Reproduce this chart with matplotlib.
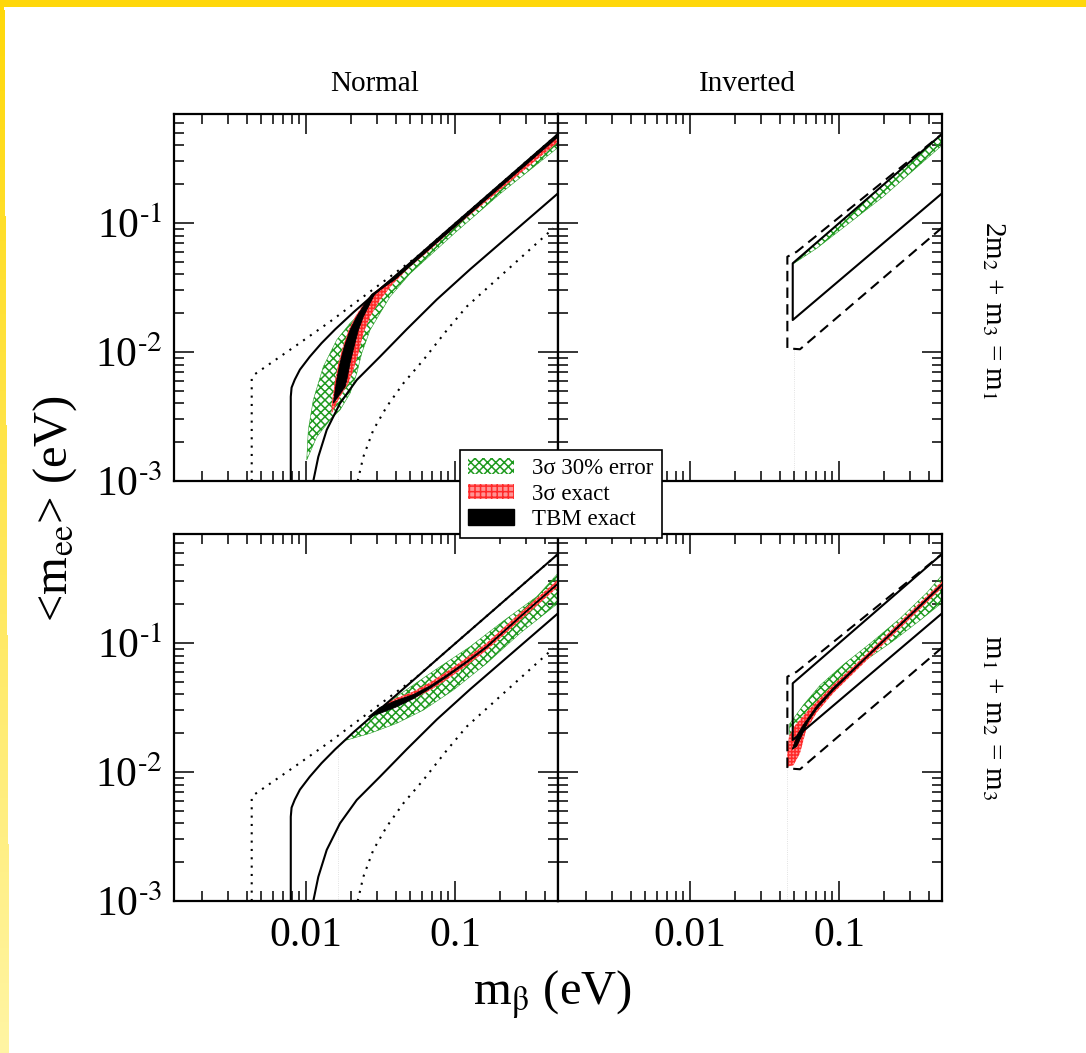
import numpy as np
import matplotlib
matplotlib.use('Agg')
import matplotlib.pyplot as plt
from matplotlib.patches import Patch, Rectangle
from matplotlib.ticker import LogLocator, NullFormatter

plt.rcParams['font.family'] = ['Liberation Serif', 'DejaVu Serif']
plt.rcParams['mathtext.fontset'] = 'stix'
plt.rcParams['hatch.linewidth'] = 1.1

# ---------------- data (eV) ----------------
# normal ordering envelopes (same in both rows)
nh_hi_x = [0.0079, 0.0079, 0.0080, 0.0084, 0.0091, 0.0106, 0.0127, 0.0157, 0.0208, 0.0283, 0.0396, 0.055, 0.083, 0.491]
nh_hi_y = [0.001, 0.0045, 0.0053, 0.0061, 0.0073, 0.0092, 0.0117, 0.0150, 0.0203, 0.0277, 0.0388, 0.054, 0.082, 0.49]
nh_hi_dot_x = [0.00432, 0.00432, 0.00455, 0.00866, 0.0145, 0.0242, 0.0406, 0.0553, 0.083, 0.491]
nh_hi_dot_y = [0.001, 0.00625, 0.00675, 0.0113, 0.0172, 0.0268, 0.0419, 0.0545, 0.082, 0.49]
nh_lo_x = [0.01119, 0.01209, 0.01377, 0.0169, 0.0219, 0.03136, 0.0474, 0.0754, 0.1261, 0.491]
nh_lo_y = [0.001, 0.00154, 0.00249, 0.0040, 0.00607, 0.0092, 0.0150, 0.0255, 0.0437, 0.1698]
nh_lo_dot_x = [0.02223, 0.02424, 0.0283, 0.0348, 0.045, 0.0613, 0.0879, 0.1198, 0.457]
nh_lo_dot_y = [0.001, 0.00154, 0.00249, 0.00377, 0.00572, 0.00867, 0.0147, 0.0225, 0.091]

# inverted ordering envelopes
ih_x = [0.491, 0.0489, 0.0489, 0.491]
ih_y = [0.1698, 0.0177, 0.0487, 0.49]
ih_dash_x = [0.491, 0.0547, 0.045, 0.045, 0.052, 0.491]
ih_dash_y = [0.092, 0.0105, 0.01068, 0.0548, 0.0599, 0.49]

# faint vertical guides
faint_nh_x = 0.0165
faint_nh_top = [0.0033, 0.0157]
faint_ih_x = [0.0495, 0.045]
faint_ih_top = [0.0107, 0.0107]

# ---- Normal, 2m2+m3=m1 ----
gA_up_x = [0.01011, 0.01036, 0.01119, 0.01306, 0.01607, 0.01974, 0.02555, 0.03303, 0.0499, 0.083, 0.491]
gA_up_y = [0.001455, 0.00249, 0.00425, 0.00769, 0.0124, 0.0167, 0.02245, 0.02851, 0.047, 0.080, 0.48]
gA_lo_x = [0.491, 0.2, 0.1, 0.0499, 0.03663, 0.03136, 0.02689, 0.02364, 0.0219, 0.01974, 0.0169, 0.01449, 0.0118]
gA_lo_y = [0.385, 0.168, 0.084, 0.0405, 0.02684, 0.01995, 0.0148, 0.00977, 0.00684, 0.00478, 0.00355, 0.00297, 0.0022]
rA_up_x = [0.01488, 0.0149, 0.0157, 0.0165, 0.0177, 0.0193, 0.0214, 0.0245, 0.0276, 0.0396, 0.055, 0.083, 0.491]
rA_up_y = [0.00335, 0.0040, 0.0061, 0.0082, 0.011, 0.0148, 0.0188, 0.0238, 0.0280, 0.0388, 0.054, 0.082, 0.49]
rA_lo_x = [0.491, 0.0950, 0.0679, 0.0499, 0.03854, 0.03136, 0.02689, 0.02424, 0.02244, 0.02077, 0.01922, 0.0169]
rA_lo_y = [0.4246, 0.0882, 0.0618, 0.0458, 0.03408, 0.0253, 0.01878, 0.01396, 0.00977, 0.00725, 0.00572, 0.0045]
bA_up_x = [0.01525, 0.01607, 0.0169, 0.01807, 0.01974, 0.0219, 0.0249, 0.0276, 0.0306, 0.0396, 0.055, 0.083, 0.491]
bA_up_y = [0.0040, 0.00607, 0.00818, 0.011, 0.0148, 0.01878, 0.02385, 0.0280, 0.0305, 0.0388, 0.054, 0.082, 0.49]
bA_lo_x = [0.491, 0.083, 0.055, 0.0396, 0.02904, 0.02689, 0.02424, 0.02244, 0.021, 0.01974, 0.01876, 0.01827]
bA_lo_y = [0.465, 0.0775, 0.051, 0.0365, 0.0285, 0.02385, 0.01878, 0.0148, 0.011, 0.00818, 0.00607, 0.00538]

# ---- Inverted, 2m2+m3=m1 ----
gB_up_x = [0.0489, 0.491]
gB_up_y = [0.0487, 0.49]
gB_lo_x = [0.491, 0.198, 0.0709, 0.0489]
gB_lo_y = [0.40, 0.16, 0.0637, 0.0480]

# ---- Normal, m1+m2=m3 ----
gC_up_x = [0.01827, 0.0242, 0.030, 0.0406, 0.0754, 0.1261, 0.211, 0.3534, 0.491]
gC_up_y = [0.0177, 0.0236, 0.0292, 0.0385, 0.0630, 0.0936, 0.148, 0.2285, 0.347]
gC_lo_x = [0.491, 0.273, 0.1632, 0.0974, 0.0613, 0.0406, 0.02689, 0.01876]
gC_lo_y = [0.2032, 0.119, 0.0696, 0.0432, 0.0302, 0.02385, 0.01995, 0.0177]
rC_x = [0.033, 0.040, 0.0525, 0.068, 0.088, 0.12, 0.163, 0.273, 0.491]
rC_up = [0.0330, 0.0372, 0.0420, 0.0495, 0.0600, 0.0770, 0.100, 0.171, 0.310]
rC_lo = [0.0318, 0.0340, 0.0370, 0.0430, 0.0520, 0.0670, 0.088, 0.150, 0.272]
bC_up_x = [0.0262, 0.0314, 0.040, 0.0525, 0.068, 0.088, 0.12, 0.163, 0.273, 0.491]
bC_up_y = [0.0268, 0.0317, 0.0357, 0.0398, 0.0465, 0.0565, 0.0725, 0.0945, 0.161, 0.292]
bC_lo_x = [0.491, 0.273, 0.163, 0.12, 0.088, 0.068, 0.0525, 0.040, 0.0314]
bC_lo_y = [0.286, 0.158, 0.092, 0.0705, 0.0545, 0.0445, 0.0370, 0.0318, 0.0285]

# ---- Inverted, m1+m2=m3 ----
gD_up_x = [0.0465, 0.0576, 0.0746, 0.1069, 0.1614, 0.2567, 0.3879, 0.491]
gD_up_y = [0.0235, 0.0330, 0.0470, 0.0680, 0.0990, 0.155, 0.245, 0.335]
gD_lo_x = [0.491, 0.3497, 0.2313, 0.1534, 0.1016, 0.0709, 0.0576, 0.052, 0.0469]
gD_lo_y = [0.205, 0.150, 0.104, 0.0745, 0.0490, 0.0320, 0.0225, 0.0167, 0.0165]
rD_up_x = [0.045, 0.0462, 0.0510, 0.0620, 0.0916, 0.1534, 0.2567, 0.491]
rD_up_y = [0.0140, 0.0190, 0.0232, 0.0300, 0.0475, 0.0820, 0.146, 0.300]
rD_lo_x = [0.491, 0.2567, 0.1534, 0.0916, 0.0709, 0.060, 0.0547, 0.0494, 0.045]
rD_lo_y = [0.268, 0.130, 0.0735, 0.0410, 0.0290, 0.0210, 0.0140, 0.0113, 0.0110]
bD_up_x = [0.0485, 0.0530, 0.0576, 0.0709, 0.0916, 0.1534, 0.2567, 0.491]
bD_up_y = [0.0150, 0.0198, 0.0232, 0.0326, 0.0450, 0.0790, 0.140, 0.287]
bD_lo_x = [0.491, 0.2567, 0.1534, 0.0916, 0.0709, 0.0620, 0.0560, 0.0520]
bD_lo_y = [0.279, 0.136, 0.0770, 0.0430, 0.0308, 0.0245, 0.0190, 0.0158]

HY = '\u2010'  # plain hyphen in the exponents, as in the original
xtick_vals = [0.01, 0.1]
xtick_labels = ['0.01', '0.1']
ytick_vals = [1e-3, 1e-2, 1e-1]
ytick_labels = ['10$^{' + HY + '3}$', '10$^{' + HY + '2}$', '10$^{' + HY + '1}$']
col_titles = ['Normal', 'Inverted']
row_labels = [r'2m$_2$ + m$_3$ = m$_1$', r'm$_1$ + m$_2$ = m$_3$']
leg_labels = ['3\u03c3 30% error', '3\u03c3 exact', 'TBM exact']

GREEN = '#1f9a1f'
RED_FACE = '#ff9494'
RED_HATCH = '#ff2a2a'
G_HATCH = 'xxxx'

# ---------------- figure ----------------
fig = plt.figure(figsize=(10.86, 10.53), dpi=100)
W, H = 1086.0, 1053.0

# yellow frame (top band + fading left band)
fig.patches.append(Rectangle((0, 1 - 7 / H), 1, 7 / H, transform=fig.transFigure,
                             facecolor='#ffd70a', edgecolor='none', zorder=0))
bax = fig.add_axes([0, 0, 10 / W, 1 - 7 / H])
nr, nc = 300, 10
t = np.linspace(0, 1, nr)[:, None]
cols = np.arange(nc)[None, :]
img = np.zeros((nr, nc, 4))
img[..., 0] = 1.0
img[..., 1] = 0.85 + 0.11 * t
img[..., 2] = 0.04 + 0.60 * t
img[..., 3] = (cols < 4 + 5 * t).astype(float)
bax.imshow(img, aspect='auto', interpolation='nearest', extent=[0, nc, nr, 0])
bax.set_xlim(0, nc)
bax.axis('off')

left, mid = 174 / W, 558 / W
aw = (558 - 174) / W
ah = (481 - 114) / H
bottoms = [1 - 481 / H, 1 - 901 / H]
axs = [[fig.add_axes([left, b, aw, ah]), fig.add_axes([mid, b, aw, ah])] for b in bottoms]


def band(ax, ux, uy, lx, ly, kind):
    xs = list(ux) + list(lx)
    ys = list(uy) + list(ly)
    if kind == 'g':
        ax.fill(xs, ys, facecolor='none', edgecolor=GREEN, hatch=G_HATCH, lw=0.4, zorder=2)
    elif kind == 'r':
        ax.fill(xs, ys, facecolor=RED_FACE, edgecolor=RED_HATCH, hatch='+++++', lw=0, zorder=3)
    else:
        ax.fill(xs, ys, facecolor='black', edgecolor='black', lw=0.6, zorder=4)


for r in range(2):
    for c in range(2):
        ax = axs[r][c]
        ax.set_xscale('log')
        ax.set_yscale('log')
        if c == 0:
            ax.plot(nh_hi_x, nh_hi_y, color='black', lw=1.5, zorder=5)
            ax.plot(nh_lo_x, nh_lo_y, color='black', lw=1.5, zorder=5)
            ax.plot(nh_hi_dot_x, nh_hi_dot_y, color='black', lw=1.5, ls=(0, (1, 3)), zorder=5)
            ax.plot(nh_lo_dot_x, nh_lo_dot_y, color='black', lw=1.5, ls=(0, (1, 3)), zorder=5)
            ax.plot([faint_nh_x, faint_nh_x], [1e-3, faint_nh_top[r]], color='#d8d8d8', lw=0.6, ls=':', zorder=1)
        else:
            ax.plot(ih_x, ih_y, color='black', lw=1.5, zorder=5)
            ax.plot(ih_dash_x, ih_dash_y, color='black', lw=1.5, ls=(0, (5, 3)), zorder=5)
            ax.plot([faint_ih_x[r], faint_ih_x[r]], [1e-3, faint_ih_top[r]], color='#d8d8d8', lw=0.6, ls=':', zorder=1)

        ax.set_xlim(0.0013, 0.491)
        ax.set_ylim(1e-3, 0.70)
        ax.set_xticks(xtick_vals)
        ax.set_xticklabels(xtick_labels)
        ax.set_yticks(ytick_vals)
        ax.set_yticklabels(ytick_labels)
        ax.xaxis.set_minor_locator(LogLocator(base=10, subs=np.arange(2, 10), numticks=20))
        ax.yaxis.set_minor_locator(LogLocator(base=10, subs=np.arange(2, 10), numticks=20))
        ax.xaxis.set_minor_formatter(NullFormatter())
        ax.yaxis.set_minor_formatter(NullFormatter())
        ax.tick_params(which='both', direction='in', top=True, right=True, labelsize=30)
        ax.tick_params(which='major', length=14.5, width=1.1)
        ax.tick_params(which='minor', length=7.2, width=1.1)
        ax.tick_params(axis='x', pad=11)
        ax.tick_params(axis='y', pad=8)
        ax.tick_params(labelbottom=(r == 1), labelleft=(c == 0))
        for s in ax.spines.values():
            s.set_linewidth(1.6)

# bands
band(axs[0][0], gA_up_x, gA_up_y, gA_lo_x, gA_lo_y, 'g')
band(axs[0][0], rA_up_x, rA_up_y, rA_lo_x, rA_lo_y, 'r')
band(axs[0][0], bA_up_x, bA_up_y, bA_lo_x, bA_lo_y, 'b')
band(axs[0][1], gB_up_x, gB_up_y, gB_lo_x, gB_lo_y, 'g')
band(axs[1][0], gC_up_x, gC_up_y, gC_lo_x, gC_lo_y, 'g')
band(axs[1][0], rC_x, rC_up, rC_x[::-1], rC_lo[::-1], 'r')
band(axs[1][0], bC_up_x, bC_up_y, bC_lo_x, bC_lo_y, 'b')
band(axs[1][1], gD_up_x, gD_up_y, gD_lo_x, gD_lo_y, 'g')
band(axs[1][1], rD_up_x, rD_up_y, rD_lo_x, rD_lo_y, 'r')
band(axs[1][1], bD_up_x, bD_up_y, bD_lo_x, bD_lo_y, 'b')

# titles and side labels
fig.text(375 / W, 1 - 84 / H, col_titles[0], ha='center', va='center', fontsize=21)
fig.text(747 / W, 1 - 84 / H, col_titles[1], ha='center', va='center', fontsize=21)
fig.text(993 / W, 1 - 310 / H, row_labels[0], rotation=270, ha='center', va='center', fontsize=21)
fig.text(993 / W, 1 - 718 / H, row_labels[1], rotation=270, ha='center', va='center', fontsize=21)

fig.text(552 / W, 1 - 995 / H, r'm$_{\mathrm{\beta}}$ (eV)', ha='center', va='center', fontsize=35)
fig.text(55 / W, 1 - 508 / H, r'<m$_{\rm ee}$> (eV)', rotation=90, ha='center', va='center', fontsize=35)

# legend
handles = [Patch(facecolor='white', edgecolor=GREEN, hatch=G_HATCH, lw=0),
           Patch(facecolor=RED_FACE, edgecolor=RED_HATCH, hatch='+++', lw=0),
           Patch(facecolor='black', edgecolor='black')]
leg = fig.legend(handles, leg_labels, loc='upper left', bbox_to_anchor=(460 / W, 1 - 450 / H),
                 bbox_transform=fig.transFigure, borderaxespad=0, frameon=True, fancybox=False,
                 edgecolor='black', framealpha=1, fontsize=16.5, handlelength=2.0, handleheight=0.65,
                 borderpad=0.35, labelspacing=0.2, handletextpad=0.8)
leg.get_frame().set_linewidth(1.2)
leg.set_zorder(10)

fig.savefig('out.png', dpi=100)
